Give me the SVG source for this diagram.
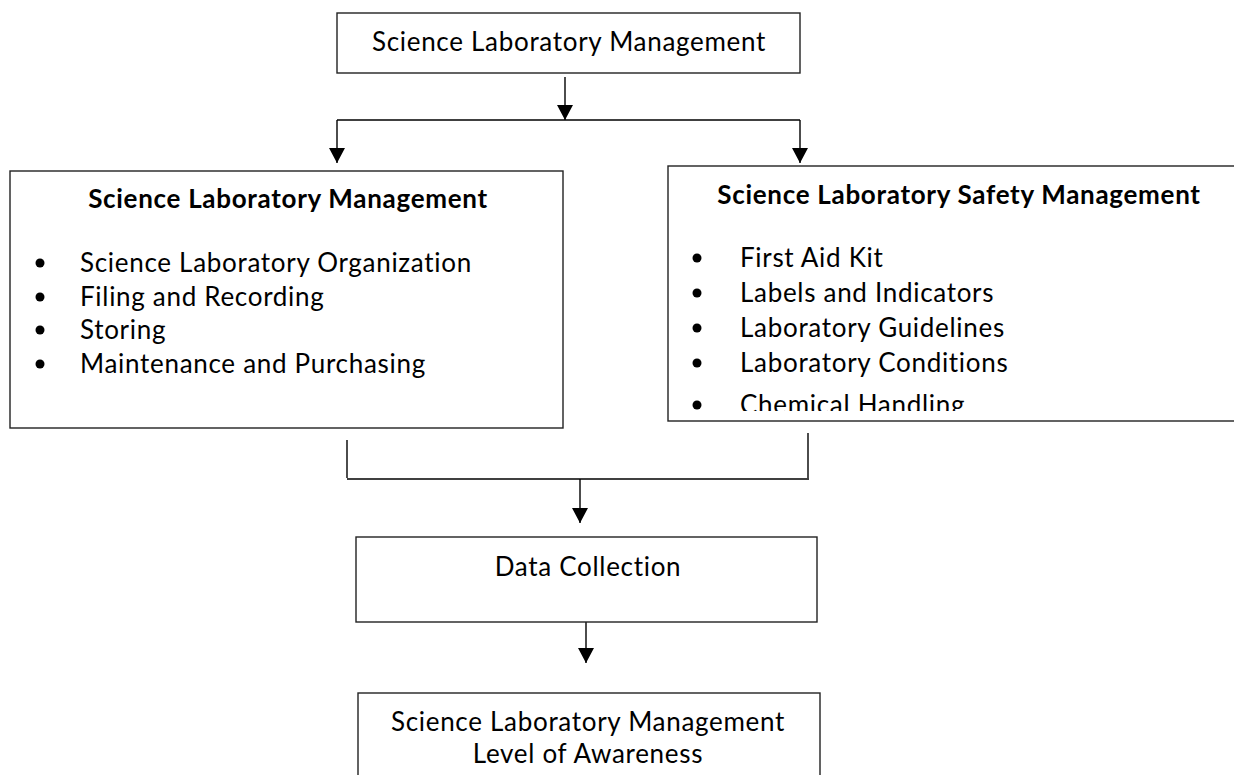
<svg xmlns="http://www.w3.org/2000/svg" width="1234" height="775" viewBox="0 0 1234 775">
<style>
.box{fill:#fff;stroke:#222;stroke-width:1.4}
.ln{fill:none;stroke:#000;stroke-width:1.4}
.t{font-family:Lato,"Open Sans","Liberation Sans",sans-serif;font-size:26px;letter-spacing:0.7px;font-variant-ligatures:none;fill:#000}
.b{font-weight:bold}
.m{text-anchor:middle}
</style>
<defs>
<clipPath id="rc"><rect x="668" y="166" width="570" height="245"/></clipPath>
</defs>
<rect width="1234" height="775" fill="#fff"/>
<g id="connectors">
<path class="ln" d="M565,77 V120"/>
<path class="ln" d="M337,120 H800"/>
<path class="ln" d="M337,120 V163"/>
<path class="ln" d="M800,120 V163"/>
<path class="ln" d="M347,440 V478"/>
<path class="ln" d="M808,433 V478"/>
<path class="ln" d="M347,479 H809"/>
<path class="ln" d="M580,479 V523"/>
<path class="ln" d="M586,622 V663"/>
<path d="M557,105 L573,105 L565,120 Z"/>
<path d="M329,148 L345,148 L337,163 Z"/>
<path d="M792,148 L808,148 L800,163 Z"/>
<path d="M572,508 L588,508 L580,523 Z"/>
<path d="M578,648 L594,648 L586,663 Z"/>
</g>
<g id="top">
<rect class="box" x="337" y="13" width="463" height="60"/>
<text class="t m" x="569" y="51">Science Laboratory Management</text>
</g>
<g id="left">
<rect class="box" x="10" y="171" width="553" height="257"/>
<text class="t b m" x="288" y="208">Science Laboratory Management</text>
<circle cx="40" cy="263" r="4.5"/>
<circle cx="40" cy="297" r="4.5"/>
<circle cx="40" cy="330" r="4.5"/>
<circle cx="40" cy="364" r="4.5"/>
<text class="t" x="80" y="272">Science Laboratory Organization</text>
<text class="t" x="80" y="306">Filing and Recording</text>
<text class="t" x="80" y="339">Storing</text>
<text class="t" x="80" y="373">Maintenance and Purchasing</text>
</g>
<g id="right">
<rect class="box" x="668" y="166" width="580" height="255"/>
<text class="t b m" x="959" y="204">Science Laboratory Safety Management</text>
<g clip-path="url(#rc)">
<circle cx="697" cy="258" r="4.5"/>
<circle cx="697" cy="293" r="4.5"/>
<circle cx="697" cy="328" r="4.5"/>
<circle cx="697" cy="363" r="4.5"/>
<circle cx="697" cy="405" r="4.5"/>
<text class="t" x="740" y="267">First Aid Kit</text>
<text class="t" x="740" y="302">Labels and Indicators</text>
<text class="t" x="740" y="337">Laboratory Guidelines</text>
<text class="t" x="740" y="372">Laboratory Conditions</text>
<text class="t" x="740" y="414">Chemical Handling</text>
</g>
</g>
<g id="data">
<rect class="box" x="356" y="537" width="461" height="85"/>
<text class="t m" x="588" y="576">Data Collection</text>
</g>
<g id="awareness">
<rect class="box" x="358" y="693" width="462" height="100"/>
<text class="t m" x="588" y="731">Science Laboratory Management</text>
<text class="t m" x="588" y="763">Level of Awareness</text>
</g>
</svg>
